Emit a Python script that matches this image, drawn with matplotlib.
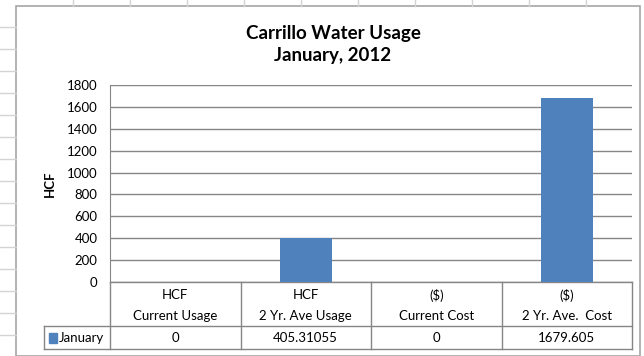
import matplotlib.pyplot as plt
from matplotlib.lines import Line2D
from matplotlib.patches import Rectangle

# usage / cost figures for the month
categories = ["HCF\nCurrent Usage", "HCF\n2 Yr. Ave Usage", "($)\nCurrent Cost", "($)\n2 Yr. Ave.  Cost"]
january = [0, 405.31055, 0, 1679.605]
january_labels = ["0", "405.31055", "0", "1679.605"]
series_name = "January"
yticks = [0, 200, 400, 600, 800, 1000, 1200, 1400, 1600, 1800]

plt.rcParams['font.family'] = ['Lato', 'DejaVu Sans']

W, H = 644, 356
fig = plt.figure(figsize=(W / 100, H / 100), dpi=100)
fig.patch.set_facecolor("white")

def px(x, y):
    return x / W, 1 - y / H

# spreadsheet cells around the chart
grid_c = "#d4d4d4"
for x in range(73, 640, 57):
    fig.add_artist(Line2D([x / W] * 2, [1, 1 - 6 / H], color=grid_c, lw=1))
for y in range(27, 356, 22):
    fig.add_artist(Line2D([0, 16 / W], [1 - y / H] * 2, color=grid_c, lw=1))
# chart frame
fig.add_artist(Rectangle(px(16, 356), 624 / W, 350 / H, fill=False, ec="#a6a6a6", lw=1.2))

fig.text(333 / W, 1 - 33 / H, "Carrillo Water Usage", ha="center", va="center",
         fontsize=13.5, fontweight="bold")
fig.text(333 / W, 1 - 55 / H, "January, 2012", ha="center", va="center",
         fontsize=13.5, fontweight="bold")

ax = fig.add_axes([110 / W, 74 / H, 522 / W, 197 / H])
x = range(len(categories))
ax.bar(x, january, width=0.4, color="#4F81BD", zorder=3)
ax.set_xlim(-0.5, len(categories) - 0.5)
ax.set_ylim(0, 1800)
ax.set_yticks(yticks)
ax.set_xticks([])
ax.tick_params(axis="y", length=0, pad=9, labelsize=9.5)
ax.grid(axis="y", color="#868686", lw=1, zorder=0)
for s in ["top", "right", "bottom"]:
    ax.spines[s].set_visible(False)
ax.spines["left"].set_color("#868686")
ax.set_ylabel("HCF", fontsize=9.5, fontweight="bold")
ax.yaxis.set_label_coords(-0.103, 0.5)

# data table under the plot
tr = ax.get_xaxis_transform()
line_c = "#868686"
head_bot, tab_bot = -0.223, -0.340
leg_left = -1.006
n = len(categories)
fs = 9.5
kw = dict(transform=tr, color=line_c, lw=1, clip_on=False)
ax.plot([-0.5, n - 0.5], [0, 0], **kw)
ax.plot([leg_left, n - 0.5], [head_bot, head_bot], **kw)
ax.plot([leg_left, n - 0.5], [tab_bot, tab_bot], **kw)
ax.plot([leg_left, leg_left], [head_bot, tab_bot], **kw)
for i in range(n + 1):
    ax.plot([i - 0.5, i - 0.5], [0, tab_bot], **kw)

for i, cat in enumerate(categories):
    top, bottom = cat.split("\n")
    ax.text(i, -0.066, top, transform=tr, ha="center", va="center", fontsize=fs)
    ax.text(i, -0.173, bottom, transform=tr, ha="center", va="center", fontsize=fs)
    ax.text(i, -0.284, january_labels[i], transform=tr, ha="center", va="center", fontsize=fs)

ax.add_patch(Rectangle((leg_left + 0.04, -0.31), 0.06, 0.05, transform=tr,
                       color="#4F81BD", clip_on=False))
ax.text(leg_left + 0.11, -0.284, series_name, transform=tr, ha="left", va="center", fontsize=fs)

fig.savefig("out.png", dpi=100)
